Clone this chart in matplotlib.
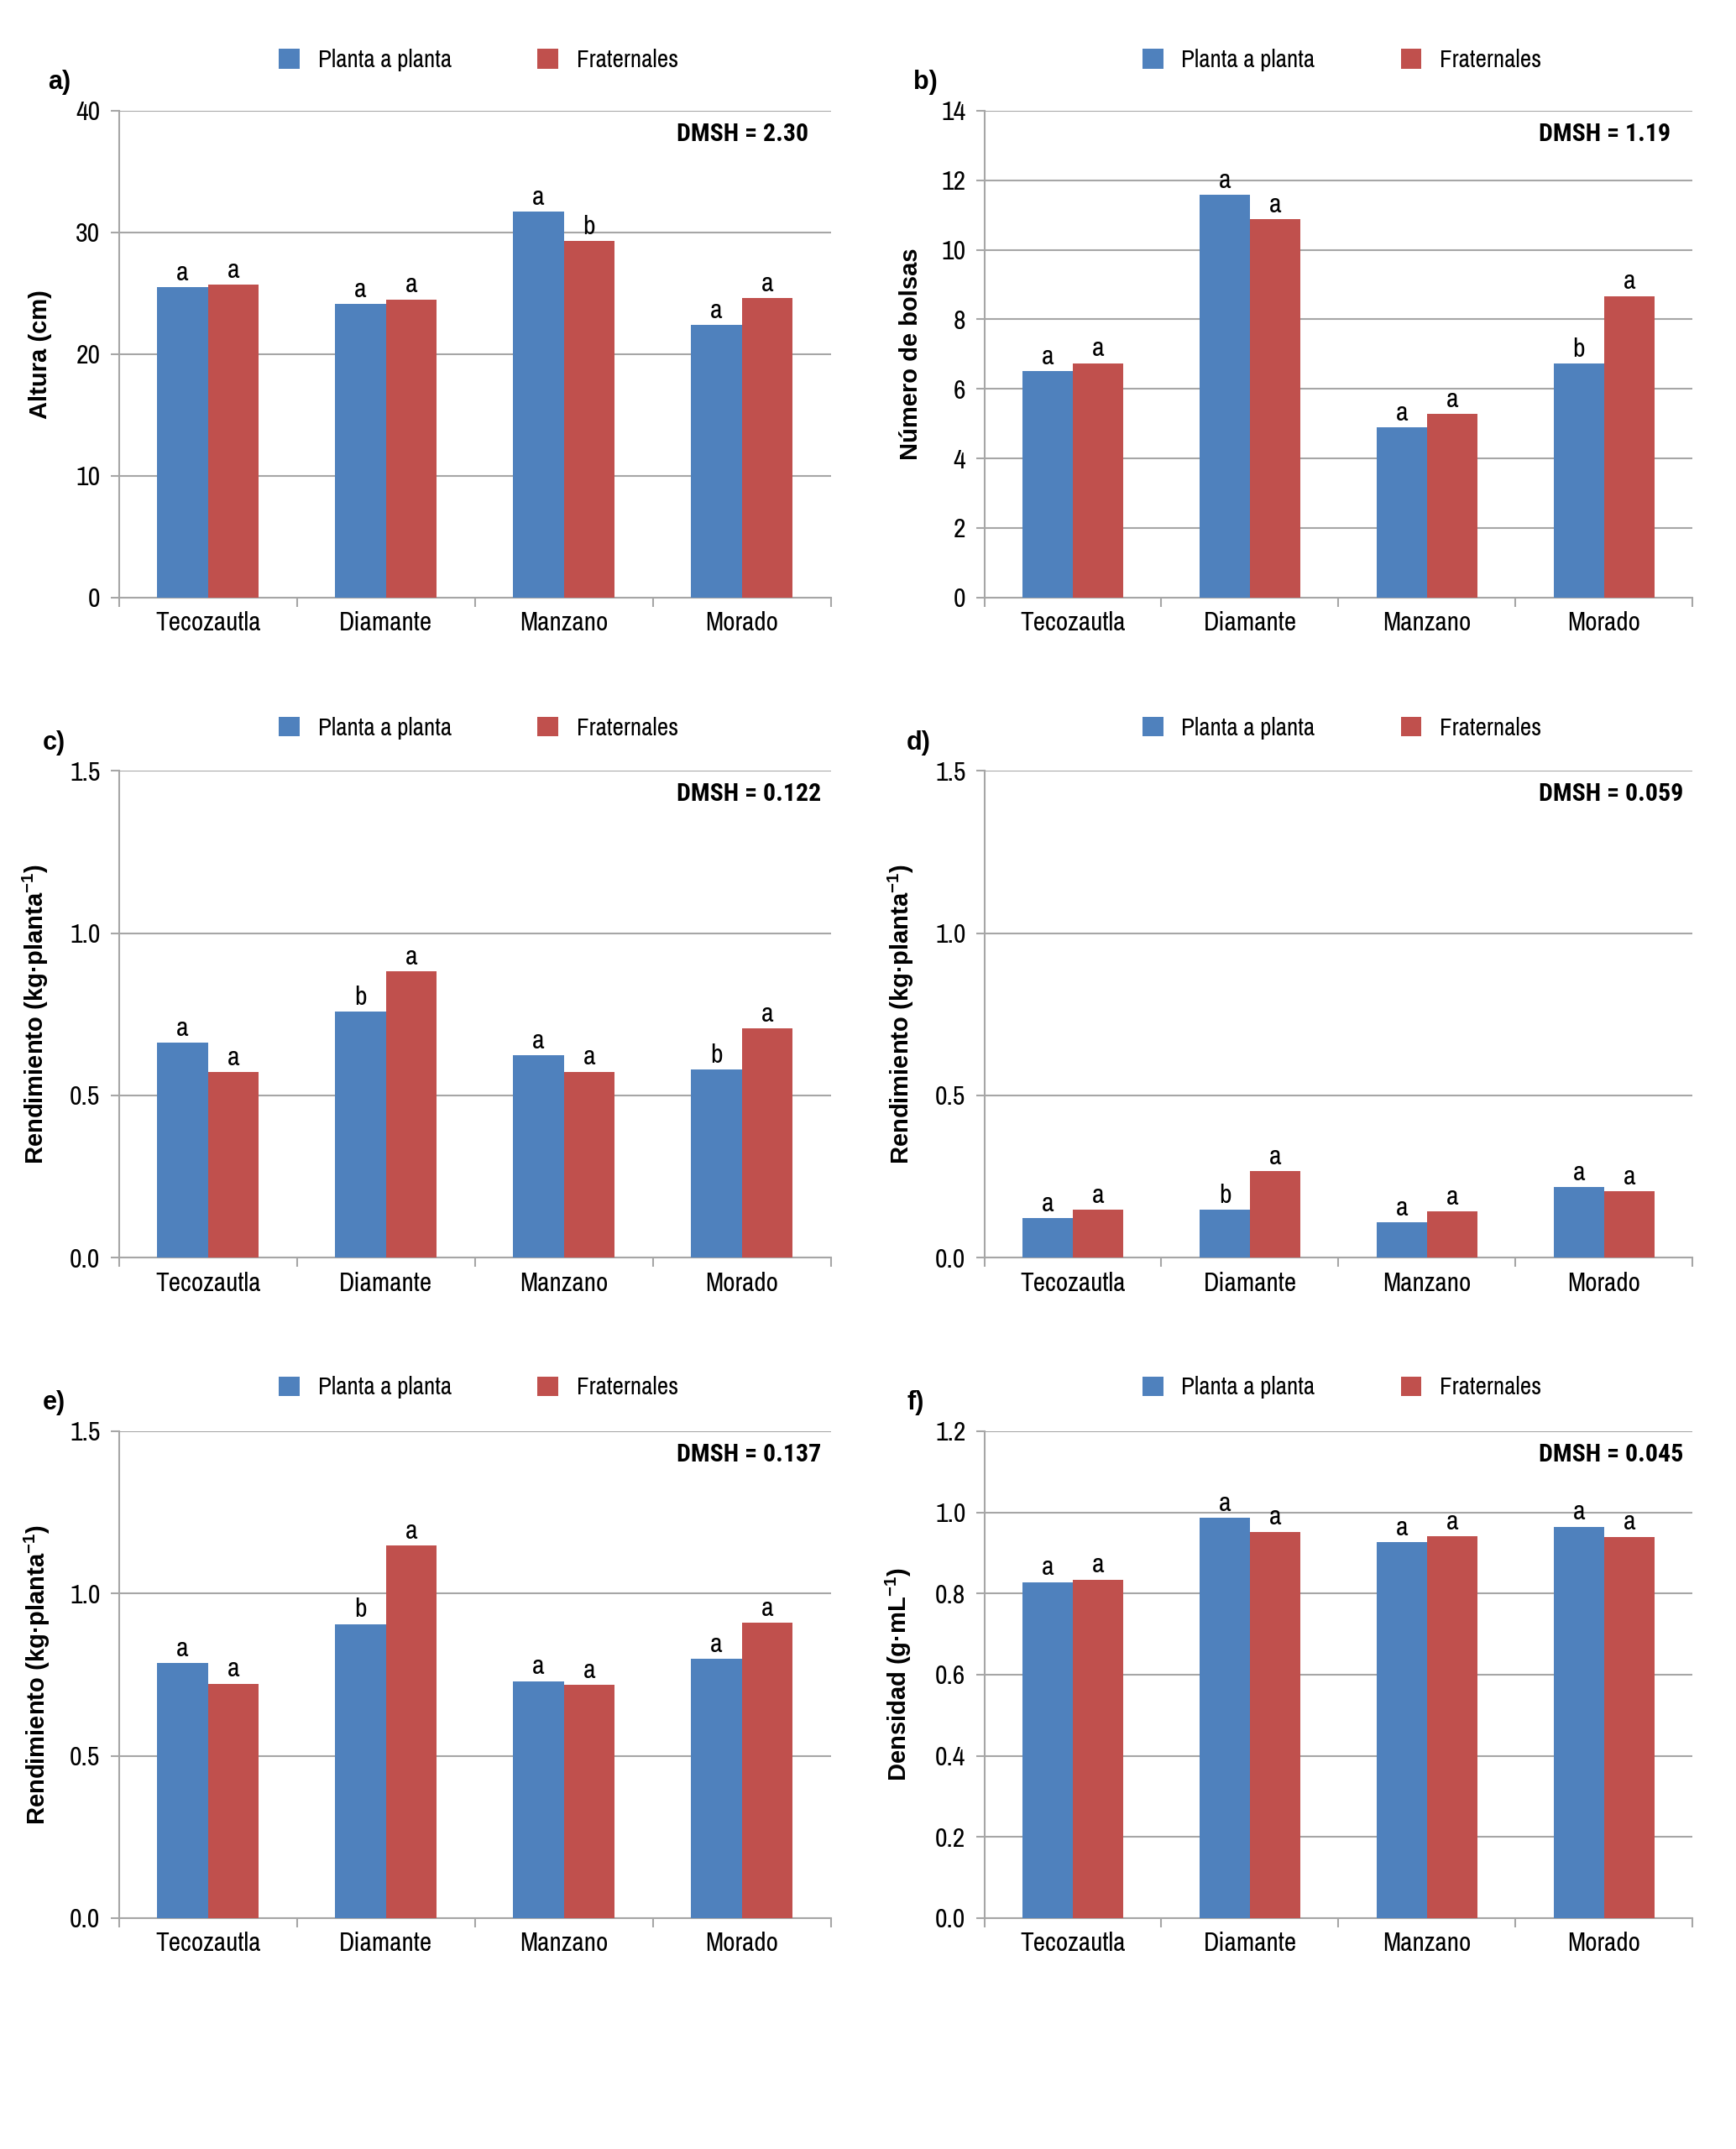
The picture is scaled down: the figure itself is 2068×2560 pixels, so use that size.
# six grouped bar panels: planta a planta vs fraternales per variety
import matplotlib.pyplot as plt
import matplotlib.ticker as mticker
from matplotlib import font_manager as fm
import numpy as np


def pick_font(candidates, bold=False):
    # first family that is installed (and has a bold face when asked)
    for name in candidates:
        for f in fm.fontManager.ttflist:
            if f.name == name and (not bold or f.weight in (700, 'bold')):
                return name
    return 'DejaVu Sans'


NARROW = pick_font(['Liberation Sans Narrow', 'Archivo Narrow', 'Roboto Condensed', 'Fira Sans Condensed'])
NARROW_BOLD = pick_font(['Liberation Sans Narrow', 'Roboto Condensed', 'Fira Sans Condensed',
                         'Barlow Semi Condensed'], bold=True)
WIDE = 'Liberation Sans'

plt.rcParams['font.family'] = [NARROW, 'DejaVu Sans']
plt.rcParams['mathtext.default'] = 'regular'

BLUE = '#4F81BD'
RED = '#C0504D'
GRID = '#A6A6A6'

varieties = ["Tecozautla", "Diamante", "Manzano", "Morado"]
series_names = ["Planta a planta", "Fraternales"]

# a) altura
altura_pp = [25.5, 24.1, 31.7, 22.4]
altura_fr = [25.7, 24.5, 29.3, 24.6]
altura_let_pp = ["a", "a", "a", "a"]
altura_let_fr = ["a", "a", "b", "a"]

# b) numero de bolsas
bolsas_pp = [6.50, 11.58, 4.89, 6.72]
bolsas_fr = [6.74, 10.87, 5.27, 8.67]
bolsas_let_pp = ["a", "a", "a", "b"]
bolsas_let_fr = ["a", "a", "a", "a"]

# c) rendimiento
rend_c_pp = [0.662, 0.757, 0.623, 0.579]
rend_c_fr = [0.572, 0.882, 0.573, 0.706]
rend_c_let_pp = ["a", "b", "a", "b"]
rend_c_let_fr = ["a", "a", "a", "a"]

# d) rendimiento
rend_d_pp = [0.121, 0.147, 0.108, 0.217]
rend_d_fr = [0.147, 0.267, 0.142, 0.205]
rend_d_let_pp = ["a", "b", "a", "a"]
rend_d_let_fr = ["a", "a", "a", "a"]

# e) rendimiento
rend_e_pp = [0.785, 0.906, 0.730, 0.798]
rend_e_fr = [0.722, 1.148, 0.718, 0.910]
rend_e_let_pp = ["a", "b", "a", "a"]
rend_e_let_fr = ["a", "a", "a", "a"]

# f) densidad
dens_pp = [0.828, 0.987, 0.927, 0.965]
dens_fr = [0.834, 0.952, 0.941, 0.940]
dens_let_pp = ["a", "a", "a", "a"]
dens_let_fr = ["a", "a", "a", "a"]

REND_LABEL = r"Rendimiento (kg·planta$^{-1}$)"

panels = [
    ("a)", "Altura (cm)", altura_pp, altura_fr, altura_let_pp, altura_let_fr,
     "DMSH = 2.30", np.arange(0, 41, 10), "%d"),
    ("b)", "Número de bolsas", bolsas_pp, bolsas_fr, bolsas_let_pp, bolsas_let_fr,
     "DMSH = 1.19", np.arange(0, 15, 2), "%d"),
    ("c)", REND_LABEL, rend_c_pp, rend_c_fr, rend_c_let_pp, rend_c_let_fr,
     "DMSH = 0.122", np.arange(0, 1.51, 0.5), "%.1f"),
    ("d)", REND_LABEL, rend_d_pp, rend_d_fr, rend_d_let_pp, rend_d_let_fr,
     "DMSH = 0.059", np.arange(0, 1.51, 0.5), "%.1f"),
    ("e)", REND_LABEL, rend_e_pp, rend_e_fr, rend_e_let_pp, rend_e_let_fr,
     "DMSH = 0.137", np.arange(0, 1.51, 0.5), "%.1f"),
    ("f)", r"Densidad (g·mL$^{-1}$)", dens_pp, dens_fr, dens_let_pp, dens_let_fr,
     "DMSH = 0.045", np.arange(0, 1.21, 0.2), "%.1f"),
]

# axes boxes in figure fractions
lefts = [0.0685, 0.567]
widths = [0.410, 0.408]
bottoms = [0.722, 0.4148, 0.1075]
height = 0.2265
ylabel_x = [-0.094, -0.087, -0.096, -0.097, -0.094, -0.100]
tag_x = [-0.084, -0.083, -0.091, -0.093, -0.091, -0.097]
legend_y = [1.104, 1.104, 1.088, 1.088, 1.09, 1.09]

fig = plt.figure(figsize=(20.68, 25.6), dpi=100)

bar_w = 0.285
x = np.arange(len(varieties))

for k, (tag, ylabel, pp, fr, let_pp, let_fr, dmsh, yticks, fmt) in enumerate(panels):
    row, col = divmod(k, 2)
    ax = fig.add_axes([lefts[col], bottoms[row], widths[col], height])

    b1 = ax.bar(x - bar_w / 2, pp, bar_w, color=BLUE, label=series_names[0], zorder=3)
    b2 = ax.bar(x + bar_w / 2, fr, bar_w, color=RED, label=series_names[1], zorder=3)

    for bars, letters in ((b1, let_pp), (b2, let_fr)):
        for rect, lt in zip(bars, letters):
            ax.annotate(lt, (rect.get_x() + rect.get_width() / 2, rect.get_height()),
                        xytext=(0, 6), textcoords="offset points",
                        ha="center", va="baseline", fontsize=23)

    ax.set_xlim(-0.5, len(varieties) - 0.5)
    ax.set_ylim(yticks[0], yticks[-1])
    ax.set_yticks(yticks)
    ax.yaxis.set_major_formatter(mticker.FormatStrFormatter(fmt))
    ax.set_xticks(x)
    ax.set_xticklabels(varieties, fontsize=22.5)
    ax.set_xticks(np.arange(-0.5, len(varieties)), minor=True)
    ax.tick_params(axis="x", which="major", length=0, pad=12)
    ax.tick_params(axis="x", which="minor", length=8, color=GRID, width=1.5)
    ax.tick_params(axis="y", length=7, color=GRID, width=1.5, pad=9, labelsize=23)

    ax.yaxis.grid(True, color=GRID, linewidth=1.5, zorder=0)
    ax.set_axisbelow(True)
    for side in ("top", "right"):
        ax.spines[side].set_visible(False)
    for side in ("left", "bottom"):
        ax.spines[side].set_color(GRID)
        ax.spines[side].set_linewidth(1.5)

    ax.set_ylabel(ylabel, fontsize=21, fontweight="bold", family=WIDE)
    ax.yaxis.set_label_coords(ylabel_x[k], 0.5)

    ax.text(0.783, 0.952, dmsh, transform=ax.transAxes, ha="left", va="center",
            fontsize=21.5, fontweight="bold", family=NARROW_BOLD)
    ax.text(tag_x[k], 1.058, tag, transform=ax.transAxes, ha="center", va="center",
            fontsize=22, fontweight="bold", family=WIDE)

    ax.legend(loc="center", bbox_to_anchor=(0.505, legend_y[k]), ncol=2, frameon=False,
              fontsize=21, handlelength=0.85, handleheight=0.85,
              handletextpad=0.75, columnspacing=3.5)

fig.savefig("out.png", dpi=100)
